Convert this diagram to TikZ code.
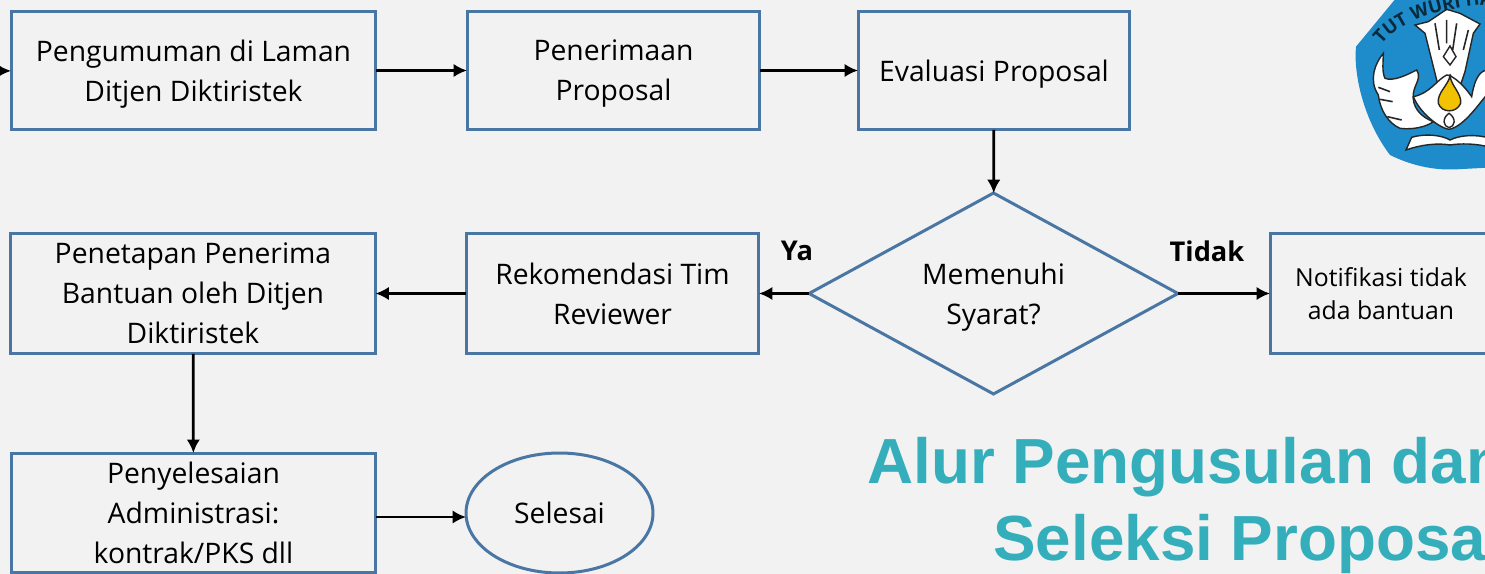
\documentclass[tikz,border=0pt]{standalone}
\usepackage{fontspec}
\setmainfont{Open Sans}
\newfontfamily\titlefont{Liberation Sans}
\usetikzlibrary{
    arrows.meta,
    shapes.geometric,
    decorations.text
}
\definecolor{pagebg}{HTML}{F2F2F2}
\definecolor{boxline}{HTML}{4A76A4}
\definecolor{titleteal}{HTML}{35AEBB}
\definecolor{logoblue}{HTML}{1E8BCB}
\definecolor{logoyellow}{HTML}{F2C200}
\tikzset{
    flowtext/.style={inner sep=0pt, outer sep=0pt, align=center, text depth=0pt, font=\fontsize{16.1}{22.7}\selectfont},
    flowbox/.style={draw=boxline, line width=0.06cm, rectangle, minimum width=7.3cm, minimum height=2.38cm, flowtext},
    flowarrow/.style={-{Latex[length=0.27cm, width=0.27cm]}},
    titletext/.style={text=titleteal, inner sep=0pt, font=\titlefont\bfseries\fontsize{36.3}{43.7}\selectfont},
    wingpart/.style={fill=white, draw=black!85, line width=0.8pt},
    wingline/.style={draw=black!85, line width=0.9pt}
}
\begin{document}
\begin{tikzpicture}[x=0.02cm, y=-0.02cm]
    \path[use as bounding box, fill=pagebg] (0, 0) rectangle (1485, 574);
    \coordinate (entry) at (-40, 71);
    \node[flowbox] (umum) at (193.5, 70.5) {Pengumuman di Laman\\Ditjen Diktiristek};
    \node[flowbox, minimum width=5.86cm] (terima) at (613.5, 70.5) {Penerimaan\\Proposal};
    \node[flowbox, minimum width=5.44cm] (evaluasi) at (994, 70.5) {Evaluasi Proposal};
    \node[draw=boxline, line width=0.06cm, diamond, shape aspect=1.836, minimum width=7.38cm, minimum height=4.02cm, flowtext] (syarat) at (993.5, 293.5) {Memenuhi\\Syarat?};
    \node[flowbox, minimum width=5.86cm, minimum height=2.42cm] (rekom) at (612.5, 293.5) {Rekomendasi Tim\\Reviewer};
    \node[flowbox, minimum height=2.42cm] (tetap) at (193, 293.5) {Penetapan Penerima\\Bantuan oleh Ditjen\\Diktiristek};
    \node[flowbox, minimum width=4.44cm, minimum height=2.42cm, font=\fontsize{14.1}{19.3}\selectfont] (notif) at (1381, 293.5) {Notifikasi tidak\\ada bantuan};
    \node[flowbox, minimum height=2.4cm] (admin) at (193.5, 513) {Penyelesaian\\Administrasi:\\kontrak/PKS dll};
    \node[draw=boxline, line width=0.06cm, ellipse, minimum width=3.74cm, minimum height=2.4cm, flowtext] (selesai) at (559.5, 513) {Selesai};
    \node[font=\fontsize{15.5}{18}\selectfont\bfseries] (ya) at (797, 251) {Ya};
    \node[font=\fontsize{15.5}{18}\selectfont\bfseries] (tidak) at (1207, 251) {Tidak};
    \node[titletext, anchor=base west] (judula) at (867, 483) {Alur Pengusulan dan};
    \node[titletext, anchor=base west] (judulb) at (993, 560) {Seleksi Proposal};
    \draw[line width=0.055cm]
    (entry) edge[flowarrow] (umum)
    (umum) edge[flowarrow] (terima)
    (terima) edge[flowarrow] (evaluasi)
    (evaluasi) edge[flowarrow] (syarat)
    (syarat) edge[flowarrow] (rekom)
    (syarat) edge[flowarrow] (notif)
    (rekom) edge[flowarrow] (tetap)
    (tetap) edge[flowarrow] (admin)
    ([yshift=-0.08cm]admin.east) edge[flowarrow] ([yshift=-0.08cm]selesai.west);
    % logo, in 3x crop coordinates
    \begin{scope}[shift={(1300, 0)}, x=0.00667cm, y=-0.00667cm]
        \fill[logoblue] (300, -20) -- (168, 140) .. controls (160, 220) and (190, 360) .. (270, 465)
        .. controls (330, 495) and (400, 512) .. (470, 508) -- (620, 500) -- (620, -20) -- cycle;
        \path[wingpart] (345, 75) -- (385, 65) -- (440, 28) -- (480, 40) -- (540, 72) -- (520, 100) -- (495, 215) -- (480, 260) -- (450, 225) -- (415, 260) -- (405, 220) -- (375, 100) -- cycle;
        \path[wingline] (405, 70) -- (418, 150) (440, 60) -- (440, 130) (470, 70) -- (458, 150) (505, 90) -- (490, 150);
        \path[wingpart] (250, 160) .. controls (225, 190) and (205, 240) .. (235, 285) .. controls (240, 330) and (265, 370) .. (300, 385) .. controls (340, 390) and (380, 380) .. (400, 365) .. controls (360, 350) and (335, 320) .. (340, 280) .. controls (345, 250) and (365, 235) .. (350, 210) .. controls (320, 225) and (280, 245) .. (255, 235) .. controls (245, 215) and (250, 185) .. (250, 160) -- cycle;
        \path[wingline] (235, 262) -- (270, 275) (240, 298) -- (278, 305) (262, 350) -- (305, 360);
        \path[wingpart] (340, 290) .. controls (360, 340) and (420, 385) .. (447, 388) .. controls (490, 380) and (530, 320) .. (560, 285) -- (560, 210) .. controls (530, 215) and (520, 260) .. (515, 290) .. controls (480, 240) and (450, 225) .. (440, 225) .. controls (410, 240) and (390, 280) .. (340, 290) -- cycle;
        \fill[logoyellow, draw=black!85, line width=0.8pt] (450, 228) .. controls (445, 255) and (410, 280) .. (415, 310) .. controls (425, 340) and (470, 340) .. (482, 310) .. controls (485, 280) and (455, 260) .. (450, 228) -- cycle;
        \path[wingpart] (450, 138) -- (430, 170) -- (450, 195) -- (468, 170) -- cycle;
        \path[wingpart] (447, 340) .. controls (425, 355) and (430, 380) .. (447, 383) .. controls (465, 380) and (470, 355) .. (447, 340) -- cycle;
        \path[wingpart] (318, 450) -- (335, 412) .. controls (375, 400) and (425, 405) .. (450, 420) .. controls (480, 405) and (530, 402) .. (570, 415) -- (570, 442) .. controls (530, 430) and (480, 430) .. (450, 435) .. controls (410, 428) and (360, 435) .. (318, 450) -- cycle;
        \path[postaction={decorate}, decoration={text along path, text color=black!70!logoblue, text={|\bfseries\fontsize{10.5}{11}\selectfont|TUT WURI HANDAYANI}}] (245, 135) .. controls (290, 75) and (400, 10) .. (680, 8);
    \end{scope}
\end{tikzpicture}
\end{document}
